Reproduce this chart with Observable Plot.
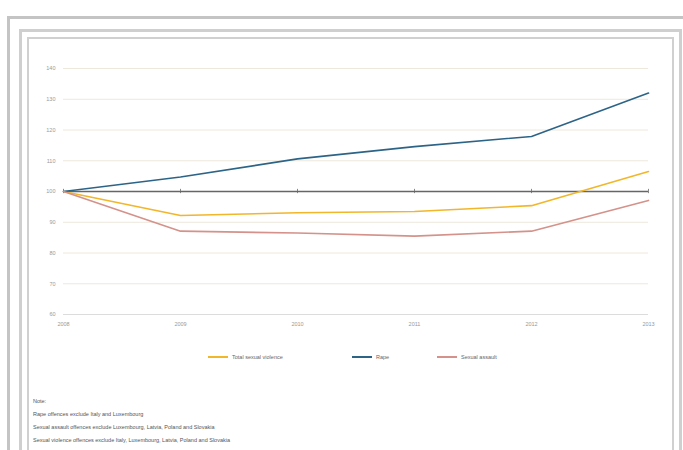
<!DOCTYPE html>
<html>
<head>
<meta charset="utf-8">
<script src="https://cdn.jsdelivr.net/npm/d3@7"></script>
<script src="https://cdn.jsdelivr.net/npm/@observablehq/plot@0.6"></script>
<style>
  html, body { margin: 0; padding: 0; background: #fff; }
  body { width: 683px; height: 450px; position: relative; overflow: hidden; font-family: "Liberation Sans", Arial, sans-serif; }
  .frame { position: absolute; box-sizing: border-box; }
  #f1 { left: 7px; top: 16px; width: 690px; height: 460px; border-left: 3px solid #c4c4c4; border-top: 3px solid #c4c4c4; }
  #f2 { left: 19px; top: 29px; width: 663px; height: 440px; border: 3px solid #cfcfcf; }
  #f3 { left: 27px; top: 37px; width: 647px; height: 430px; border: 2px solid #d0d0d0; }
  #chart { position: absolute; left: 0; top: 0; }
  #legend { position: absolute; top: 352px; left: 0; width: 683px; height: 12px; font-size: 5.5px; color: #666; }
  .item { position: absolute; top: 0; display: flex; align-items: center; height: 10px; }
  .sw { display: inline-block; width: 20px; height: 2px; margin-right: 4px; }
  #notes { position: absolute; left: 33px; top: 395px; font-size: 5.5px; color: #555; line-height: 13px; }
</style>
</head>
<body>
<div class="frame" id="f1"></div>
<div class="frame" id="f2"></div>
<div class="frame" id="f3"></div>
<div id="chart"></div>
<div id="legend"></div>
<div id="notes"></div>
<script>
const years = [2008, 2009, 2010, 2011, 2012, 2013];
const totalSexualViolence = [100, 92.2, 93.1, 93.5, 95.4, 106.5];
const rape = [100, 104.7, 110.6, 114.6, 117.9, 132.0];
const sexualAssault = [100, 87.1, 86.5, 85.5, 87.1, 97.1];
const seriesNames = ["Total sexual violence", "Rape", "Sexual assault"];
const seriesColors = ["#f2b62a", "#2c6488", "#d4928a"];
const yTicks = [60, 70, 80, 90, 100, 110, 120, 130, 140];
const notes = [
  "Note:",
  "Rape offences exclude Italy and Luxembourg",
  "Sexual assault offences exclude Luxembourg, Latvia, Poland and Slovakia",
  "Sexual violence offences exclude Italy, Luxembourg, Latvia, Poland and Slovakia"
];

const allSeries = [totalSexualViolence, rape, sexualAssault];
const data = [];
seriesNames.forEach((name, i) => {
  years.forEach((yr, j) => data.push({series: name, year: yr, value: allSeries[i][j]}));
});

const chart = Plot.plot({
  width: 683,
  height: 330,
  marginLeft: 63,
  marginRight: 35,
  marginTop: 68,
  marginBottom: 16,
  style: {fontFamily: "Liberation Sans, Arial, sans-serif", fontSize: "5.5px", color: "#888", background: "transparent"},
  x: {domain: [2008, 2013], type: "linear", label: null},
  y: {domain: [60, 140], label: null},
  color: {domain: seriesNames, range: seriesColors},
  marks: [
    Plot.ruleY(yTicks.filter(t => t !== 60 && t !== 100), {y: d => d, x1: 2008, x2: 2013, stroke: "#eee8dc"}),
    Plot.ruleY([60], {x1: 2008, x2: 2013, stroke: "#dcdcdc"}),
    Plot.axisY(yTicks, {tickSize: 0, tickPadding: 8, fill: "#999", fontSize: 5.5, label: null}),
    Plot.axisX(years, {tickSize: 0, tickPadding: 8, fill: "#999", fontSize: 5.5, label: null, tickFormat: d => String(d)}),
    Plot.ruleX(years, {x: d => d, y1: 99.3, y2: 100.7, stroke: "#888"}),
    Plot.ruleY([100], {x1: 2008, x2: 2013, stroke: "#666", strokeWidth: 1.3}),
    Plot.line(data, {x: "year", y: "value", z: "series", stroke: "series", strokeWidth: 1.6})
  ]
});
document.getElementById("chart").appendChild(chart);

const legendX = [208, 352, 437];
const legend = document.getElementById("legend");
seriesNames.forEach((name, i) => {
  const it = document.createElement("div");
  it.className = "item";
  it.style.left = legendX[i] + "px";
  const sw = document.createElement("span");
  sw.className = "sw";
  sw.style.background = seriesColors[i];
  it.appendChild(sw);
  it.appendChild(document.createTextNode(name));
  legend.appendChild(it);
});

const notesEl = document.getElementById("notes");
notes.forEach(n => {
  const d = document.createElement("div");
  d.textContent = n;
  notesEl.appendChild(d);
});
</script>
</body>
</html>
